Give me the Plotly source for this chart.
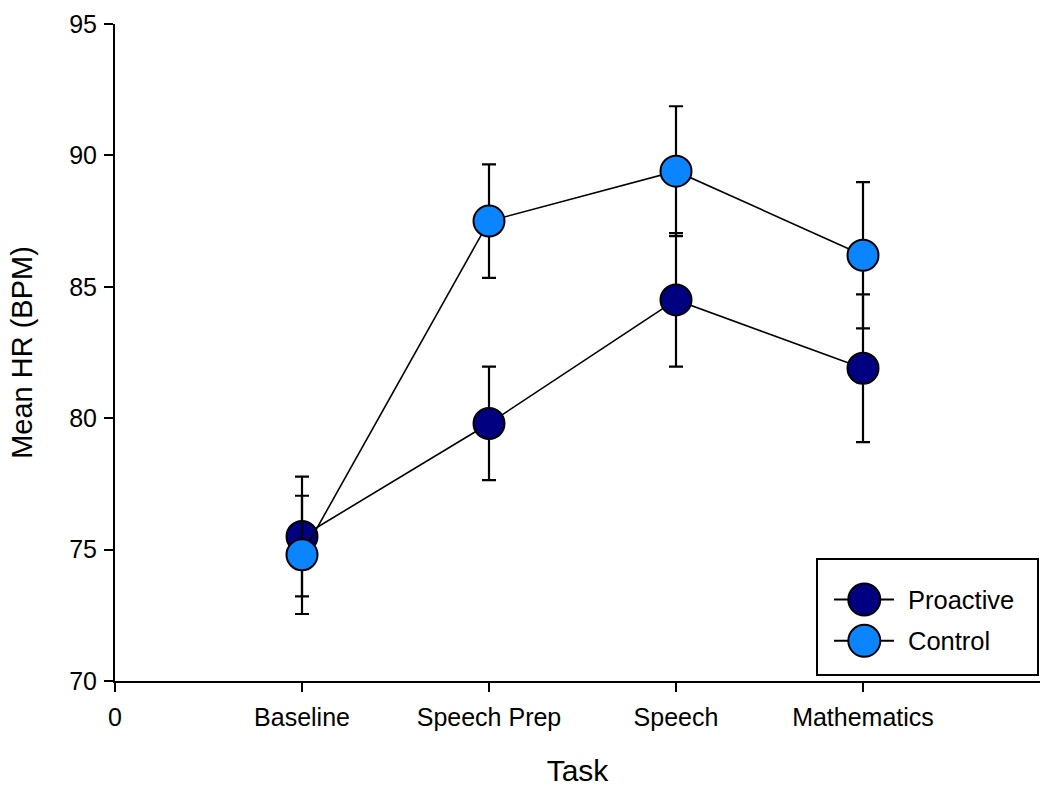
import plotly.graph_objects as go

# Mean heart rate per task phase, with error bar half-widths
tasks = ["Baseline", "Speech Prep", "Speech", "Mathematics"]
task_pos = [1, 2, 3, 4]
proactive_hr = [75.5, 79.8, 84.5, 81.9]
proactive_err = [2.28, 2.16, 2.54, 2.81]
control_hr = [74.8, 87.5, 89.4, 86.2]
control_err = [2.25, 2.16, 2.47, 2.78]

series_names = ["Proactive", "Control"]
series_colors = ["#000080", "#0A84FF"]

FONT = "Liberation Sans, Arial, sans-serif"
W, H = 1040, 787
ML, MR, MT, MB = 115, 0, 24, 106
PW, PH = W - ML - MR, H - MT - MB


def px_x(px):
    return (px - ML) / PW


def px_y(py):
    return (H - MB - py) / PH


fig = go.Figure()
for name, color, hr, err in [
    (series_names[0], series_colors[0], proactive_hr, proactive_err),
    (series_names[1], series_colors[1], control_hr, control_err),
]:
    fig.add_trace(go.Scatter(
        x=task_pos, y=hr, name=name, mode="lines+markers",
        line=dict(color="black", width=1.6),
        marker=dict(size=31, color=color, line=dict(color="black", width=2)),
        error_y=dict(type="data", array=err, visible=True,
                     color="black", thickness=2.2, width=7),
        showlegend=False,
    ))

fig.update_layout(
    width=W, height=H,
    margin=dict(l=ML, r=MR, t=MT, b=MB),
    plot_bgcolor="white", paper_bgcolor="white",
    font=dict(family=FONT, size=25, color="black"),
)
fig.update_xaxes(
    range=[0, PW / 187.0],
    tickvals=[0] + task_pos, ticktext=["0"] + tasks,
    showline=True, linecolor="black", linewidth=2,
    ticks="outside", ticklen=9, tickwidth=2, tickcolor="black",
    showgrid=False, zeroline=False,
    tickfont=dict(size=25), ticklabelstandoff=4,
    title=dict(text="Task", font=dict(size=30), standoff=30),
)
fig.update_yaxes(
    range=[70, 95], tickvals=[70, 75, 80, 85, 90, 95],
    showline=True, linecolor="black", linewidth=2,
    ticks="outside", ticklen=9, tickwidth=2, tickcolor="black",
    showgrid=False, zeroline=False,
    tickfont=dict(size=25), ticklabelstandoff=2,
    title=dict(text="Mean HR (BPM)", font=dict(size=29), standoff=28),
)

# Legend panel drawn with shapes so the markers keep their full size
shapes = [dict(type="rect", xref="paper", yref="paper",
               x0=px_x(817), x1=px_x(1038), y0=px_y(675), y1=px_y(559),
               line=dict(color="black", width=2), fillcolor="white", layer="above")]
annotations = []
for i, (name, color) in enumerate(zip(series_names, series_colors)):
    yc = px_y(599.5 + i * 41.3)
    shapes.append(dict(type="line", xref="paper", yref="paper",
                       x0=px_x(834), x1=px_x(894), y0=yc, y1=yc,
                       line=dict(color="black", width=2), layer="above"))
    shapes.append(dict(type="circle", xref="paper", yref="paper",
                       xsizemode="pixel", ysizemode="pixel",
                       xanchor=px_x(864.3), yanchor=yc,
                       x0=-16, x1=16, y0=-16, y1=16,
                       fillcolor=color, line=dict(color="black", width=2),
                       layer="above"))
    annotations.append(dict(xref="paper", yref="paper", x=px_x(906), y=yc,
                            text=name, showarrow=False, xanchor="left",
                            yanchor="middle", font=dict(size=25.5)))
fig.update_layout(shapes=shapes, annotations=annotations)

fig.write_html("out.html")
